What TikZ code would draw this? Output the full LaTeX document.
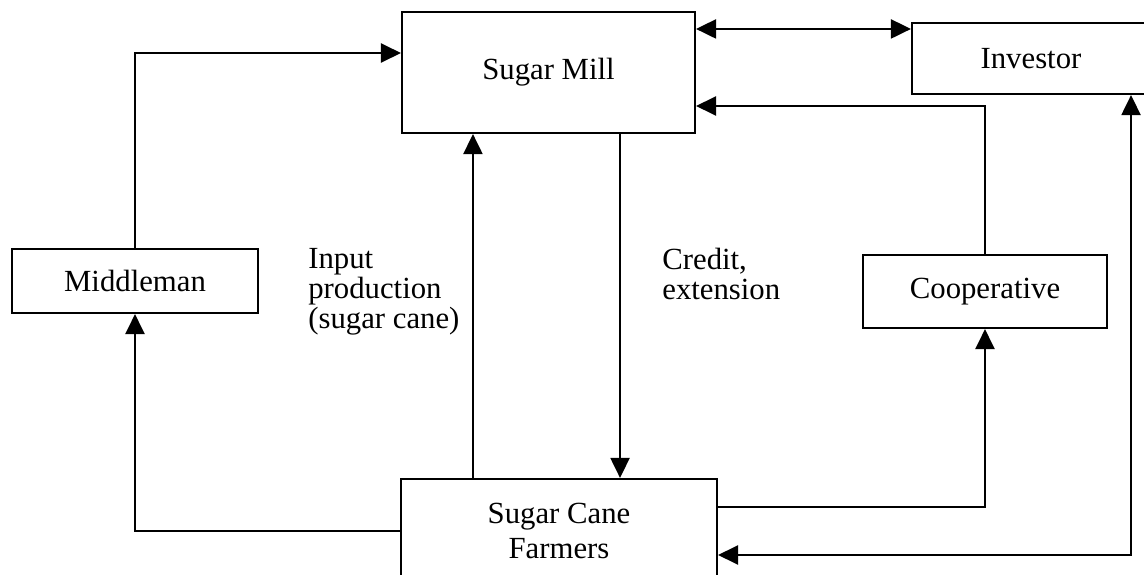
\documentclass[tikz,border=0pt]{standalone}
\usepackage{fontspec}
\setmainfont{Liberation Serif}
\usetikzlibrary{arrows.meta}
\usetikzlibrary{positioning}

\begin{document}
\begin{tikzpicture}[
		x = 0.02cm, y = -0.02cm,
		boxtheme/.style = {
			rectangle, draw = black, line width = 1.2pt,
			inner sep = 0, font = \fontsize{17.5}{17}\selectfont,
		},
		line/.style = {line width = 1.2pt, draw = black},
		flow/.style = {line, -{Triangle[length = 0.4cm, width = 0.38cm]}},
		flowboth/.style = {
			line,
			{Triangle[length = 0.4cm, width = 0.38cm]}-{Triangle[length = 0.4cm, width = 0.38cm]},
		},
		note/.style = {
			align = left, inner sep = 0, anchor = north west,
			font = \fontsize{17.5}{17}\selectfont,
		},
	]
	\useasboundingbox (0, 0) rectangle (1144, 575);

	\node[boxtheme, minimum width = 5.86cm, minimum height = 2.42cm] (Mill) at (548.5, 72.5) {Sugar Mill};
	\node[boxtheme, minimum width = 4.76cm, minimum height = 1.42cm] (Investor) at (1031, 58.5) {Investor};
	\node[boxtheme, minimum width = 4.92cm, minimum height = 1.28cm] (Middleman) at (135, 281) {Middleman};
	\node[boxtheme, minimum width = 4.88cm, minimum height = 1.46cm] (Coop) at (985, 291.5) {Cooperative};
	\node[
		boxtheme, align = center,
		minimum width = 6.32cm, minimum height = 2.08cm,
		font = \fontsize{17.5}{20.4}\selectfont,
	] (Farmers) at (559, 531) {Sugar Cane\\Farmers};

	\node[note] (Input) at (308, 248) {Input\\production\\(sugar cane)};
	\node[note] (Credit) at (662, 248) {Credit,\\extension};

	\coordinate (MillW) at ([yshift = 0.39cm]Mill.west);
	\coordinate (MillE) at ([yshift = -0.67cm]Mill.east);
	\coordinate (MillInv) at ([yshift = -0.36cm]Mill.north east);
	\coordinate (MillS) at ([xshift = -1.52cm]Mill.south east);
	\coordinate (FarmN) at ([xshift = 1.46cm]Farmers.north west);
	\coordinate (FarmE) at ([yshift = 0.48cm]Farmers.east);
	\coordinate (FarmSE) at ([yshift = -0.48cm]Farmers.east);
	\coordinate (InvS) at ([xshift = -0.4cm]Investor.south east);

	\draw[flowboth] (MillInv) -- (MillInv -| Investor.west);
	\draw[flow] (Middleman.north) |- (MillW);
	\draw[flow] (Coop.north) |- (MillE);
	\draw[flow] (FarmN) -- (FarmN |- Mill.south);
	\draw[flow] (MillS) -- (MillS |- Farmers.north);
	\draw[flow] (Farmers.west) -| (Middleman.south);
	\draw[flow] (FarmE) -| (Coop.south);
	\draw[flowboth] (FarmSE) -| (InvS);

\end{tikzpicture}
\end{document}
